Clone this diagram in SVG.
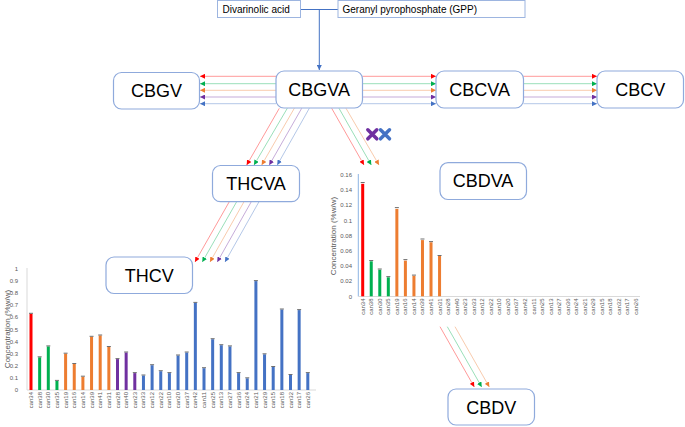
<svg xmlns="http://www.w3.org/2000/svg" width="685" height="427" viewBox="0 0 685 427">
<style>
.bg{fill:#ffffff}
.node rect.box{fill:#ffffff;stroke:#8faadc;stroke-width:1.2}
.node rect.sq{fill:#ffffff;stroke:#9db5e0;stroke-width:1}
.lbl{font-family:"Liberation Sans",Arial,sans-serif;font-size:18px;fill:#000000;text-anchor:middle}
.small{font-family:"Liberation Sans",Arial,sans-serif;font-size:10px;fill:#000000}
.tick{font-family:"Liberation Sans",Arial,sans-serif;font-size:6px;fill:#595959;text-anchor:end}
.xl{font-family:"Liberation Sans",Arial,sans-serif;font-size:6px;fill:#595959;text-anchor:end}
.ylab{font-family:"Liberation Sans",Arial,sans-serif;font-size:8px;fill:#595959;text-anchor:middle}
.lr{stroke:#ff0000;stroke-opacity:0.4;stroke-width:1;fill:none;marker-end:url(#mr)}
.lg{stroke:#00b050;stroke-opacity:0.4;stroke-width:1;fill:none;marker-end:url(#mg)}
.lo{stroke:#ed7d31;stroke-opacity:0.4;stroke-width:1;fill:none;marker-end:url(#mo)}
.lp{stroke:#7030a0;stroke-opacity:0.4;stroke-width:1;fill:none;marker-end:url(#mp)}
.lb{stroke:#4472c4;stroke-opacity:0.4;stroke-width:1;fill:none;marker-end:url(#mb)}
.main{stroke:#4472c4;stroke-width:1;fill:none}
.red{fill:#ff0000}.grn{fill:#00b050}.org{fill:#ed7d31}.pur{fill:#7030a0}.blu{fill:#4472c4}
.err{stroke:#6f6f6f;stroke-width:1;fill:none}
.axis{stroke:#d9d9d9;stroke-width:1;fill:none}
.axisb{stroke:#8eb4e3;stroke-width:1;fill:none}
.xm{stroke-width:3.5;stroke-linecap:round;fill:none}
</style>
<defs>
<marker id="mr" viewBox="0 0 6 6" refX="6" refY="3" markerWidth="5" markerHeight="5" orient="auto" markerUnits="userSpaceOnUse"><path d="M0,0 L6,3 L0,6 z" fill="#ff0000"/></marker>
<marker id="mg" viewBox="0 0 6 6" refX="6" refY="3" markerWidth="5" markerHeight="5" orient="auto" markerUnits="userSpaceOnUse"><path d="M0,0 L6,3 L0,6 z" fill="#00b050"/></marker>
<marker id="mo" viewBox="0 0 6 6" refX="6" refY="3" markerWidth="5" markerHeight="5" orient="auto" markerUnits="userSpaceOnUse"><path d="M0,0 L6,3 L0,6 z" fill="#ed7d31"/></marker>
<marker id="mp" viewBox="0 0 6 6" refX="6" refY="3" markerWidth="5" markerHeight="5" orient="auto" markerUnits="userSpaceOnUse"><path d="M0,0 L6,3 L0,6 z" fill="#7030a0"/></marker>
<marker id="mb" viewBox="0 0 6 6" refX="6" refY="3" markerWidth="5" markerHeight="5" orient="auto" markerUnits="userSpaceOnUse"><path d="M0,0 L6,3 L0,6 z" fill="#4472c4"/></marker>
</defs>
<rect class="bg" x="0" y="0" width="685" height="427"/>

<g id="connectors">
<path class="main" d="M300,9.5 H338 M319.3,9.5 V70" marker-end="url(#mb)"/>
<!-- CBGVA -> CBGV -->
<line class="lr" x1="276" y1="76.3" x2="200" y2="76.3"/>
<line class="lg" x1="276" y1="83.7" x2="200" y2="83.7"/>
<line class="lo" x1="276" y1="90.3" x2="200" y2="90.3"/>
<line class="lp" x1="276" y1="97" x2="200" y2="97"/>
<line class="lb" x1="276" y1="103.7" x2="200" y2="103.7"/>
<!-- CBGVA -> CBCVA -->
<line class="lr" x1="362.5" y1="76.3" x2="436" y2="76.3"/>
<line class="lg" x1="362.5" y1="83.7" x2="436" y2="83.7"/>
<line class="lo" x1="362.5" y1="90.3" x2="436" y2="90.3"/>
<line class="lp" x1="362.5" y1="97" x2="436" y2="97"/>
<line class="lb" x1="362.5" y1="103.7" x2="436" y2="103.7"/>
<!-- CBCVA -> CBCV -->
<line class="lr" x1="523.5" y1="76.3" x2="597" y2="76.3"/>
<line class="lg" x1="523.5" y1="83.7" x2="597" y2="83.7"/>
<line class="lo" x1="523.5" y1="90.3" x2="597" y2="90.3"/>
<line class="lp" x1="523.5" y1="97" x2="597" y2="97"/>
<line class="lb" x1="523.5" y1="103.7" x2="597" y2="103.7"/>
<!-- CBGVA -> THCVA -->
<line class="lr" x1="279.3" y1="108.3" x2="246.7" y2="165"/>
<line class="lg" x1="287.3" y1="108.3" x2="254" y2="165"/>
<line class="lo" x1="294.3" y1="108.3" x2="261.7" y2="165"/>
<line class="lp" x1="301.7" y1="108.3" x2="269.3" y2="165"/>
<line class="lb" x1="309.3" y1="108.3" x2="277.3" y2="165"/>
<!-- THCVA -> THCV -->
<line class="lr" x1="229.3" y1="201.7" x2="195" y2="262"/>
<line class="lg" x1="236.7" y1="201.7" x2="202.3" y2="262"/>
<line class="lo" x1="244" y1="201.7" x2="210" y2="262"/>
<line class="lp" x1="251.3" y1="201.7" x2="217.3" y2="262"/>
<line class="lb" x1="259" y1="201.7" x2="225" y2="262"/>
<!-- CBGVA -> CBDVA -->
<line class="lr" x1="331.7" y1="108.3" x2="364" y2="165"/>
<line class="lg" x1="339" y1="108.3" x2="371.3" y2="165"/>
<line class="lo" x1="346" y1="108.3" x2="379" y2="165"/>
<!-- CBDVA chart -> CBDV -->
<line class="lr" x1="440" y1="326.7" x2="474.3" y2="387"/>
<line class="lg" x1="447.3" y1="326.7" x2="481.7" y2="387"/>
<line class="lo" x1="455" y1="326.7" x2="489.3" y2="387"/>
<!-- blocked marks -->
<path class="xm" stroke="#7030a0" d="M367.8,129.8 L376.8,138.8 M376.8,129.8 L367.8,138.8"/>
<path class="xm" stroke="#4472c4" d="M380.5,129.8 L389.5,138.8 M389.5,129.8 L380.5,138.8"/>
</g>

<g id="divarinolic" class="node"><rect class="sq" x="217.5" y="0.5" width="83" height="17"/><text class="small" x="222.5" y="13">Divarinolic acid</text></g>
<g id="gpp" class="node"><rect class="sq" x="338" y="0.5" width="187" height="17"/><text class="small" x="342.5" y="13">Geranyl pyrophosphate (GPP)</text></g>
<g id="cbgv" class="node"><rect class="box" x="113.5" y="72.5" width="86" height="36.5" rx="8"/><text class="lbl" x="156.5" y="97">CBGV</text></g>
<g id="cbgva" class="node"><rect class="box" x="276" y="71" width="86.5" height="37" rx="8"/><text class="lbl" x="319.2" y="95.8">CBGVA</text></g>
<g id="cbcva" class="node"><rect class="box" x="436" y="71" width="87.5" height="37" rx="8"/><text class="lbl" x="479.7" y="95.8">CBCVA</text></g>
<g id="cbcv" class="node"><rect class="box" x="597" y="71" width="86.5" height="37" rx="8"/><text class="lbl" x="640.2" y="96">CBCV</text></g>
<g id="thcva" class="node"><rect class="box" x="212.5" y="165.5" width="87" height="36.2" rx="8"/><text class="lbl" x="256" y="190">THCVA</text></g>
<g id="thcv" class="node"><rect class="box" x="106" y="257" width="86.5" height="36.5" rx="8"/><text class="lbl" x="149.2" y="281.5">THCV</text></g>
<g id="cbdva" class="node"><rect class="box" x="440" y="162.7" width="86.5" height="36.8" rx="8"/><text class="lbl" x="483" y="187.3">CBDVA</text></g>
<g id="cbdv" class="node"><rect class="box" x="448" y="389" width="86.5" height="36" rx="8"/><text class="lbl" x="491.2" y="413.5">CBDV</text></g>

<g id="chart-thcv">
<line class="axis" x1="27" y1="268" x2="27" y2="390"/>
<line class="axis" x1="27" y1="390" x2="316" y2="390"/>
<text class="ylab" transform="translate(9.5,329) rotate(-90)">Concentration (%w/w)</text>
<g>
<text class="tick" x="18" y="392">0</text>
<text class="tick" x="18" y="379.9">0.1</text>
<text class="tick" x="18" y="367.8">0.2</text>
<text class="tick" x="18" y="355.7">0.3</text>
<text class="tick" x="18" y="343.6">0.4</text>
<text class="tick" x="18" y="331.5">0.5</text>
<text class="tick" x="18" y="319.4">0.6</text>
<text class="tick" x="18" y="307.3">0.7</text>
<text class="tick" x="18" y="295.2">0.8</text>
<text class="tick" x="18" y="283.1">0.9</text>
<text class="tick" x="18" y="271">1</text>
</g>
<g>
<rect class="red" x="29.5" y="313.8" width="3" height="76.2"/>
<rect class="grn" x="38.15" y="357.3" width="3" height="32.7"/>
<rect class="grn" x="46.8" y="346.4" width="3" height="43.6"/>
<rect class="grn" x="55.45" y="380.9" width="3" height="9.1"/>
<rect class="org" x="64.1" y="353.7" width="3" height="36.3"/>
<rect class="org" x="72.75" y="364" width="3" height="26"/>
<rect class="org" x="81.4" y="376.7" width="3" height="13.3"/>
<rect class="org" x="90.05" y="336.8" width="3" height="53.2"/>
<rect class="org" x="98.7" y="335.5" width="3" height="54.5"/>
<rect class="org" x="107.35" y="347" width="3" height="43"/>
<rect class="pur" x="116" y="359.1" width="3" height="30.9"/>
<rect class="pur" x="124.65" y="352.5" width="3" height="37.5"/>
<rect class="pur" x="133.3" y="373.1" width="3" height="16.9"/>
<rect class="blu" x="141.95" y="375.5" width="3" height="14.5"/>
<rect class="blu" x="150.6" y="365.2" width="3" height="24.8"/>
<rect class="blu" x="159.25" y="371.2" width="3" height="18.8"/>
<rect class="blu" x="167.9" y="373.1" width="3" height="16.9"/>
<rect class="blu" x="176.55" y="355.5" width="3" height="34.5"/>
<rect class="blu" x="185.2" y="352.5" width="3" height="37.5"/>
<rect class="blu" x="193.85" y="302.9" width="3" height="87.1"/>
<rect class="blu" x="202.5" y="368.2" width="3" height="21.8"/>
<rect class="blu" x="211.15" y="339.2" width="3" height="50.8"/>
<rect class="blu" x="219.8" y="345.2" width="3" height="44.8"/>
<rect class="blu" x="228.45" y="346.4" width="3" height="43.6"/>
<rect class="blu" x="237.1" y="373.1" width="3" height="16.9"/>
<rect class="blu" x="245.75" y="378.3" width="3" height="11.7"/>
<rect class="blu" x="254.4" y="281.1" width="3" height="108.9"/>
<rect class="blu" x="263.05" y="354.3" width="3" height="35.7"/>
<rect class="blu" x="271.7" y="367" width="3" height="23"/>
<rect class="blu" x="280.35" y="309.5" width="3" height="80.5"/>
<rect class="blu" x="289" y="375" width="3" height="15"/>
<rect class="blu" x="297.65" y="310.1" width="3" height="79.9"/>
<rect class="blu" x="306.3" y="373.1" width="3" height="16.9"/>
</g>
<path class="err" d="M29,313.3h4 M37.65,356.8h4 M46.3,345.9h4 M54.95,380.4h4 M63.6,353.2h4 M72.25,363.5h4 M80.9,376.2h4 M89.55,336.3h4 M98.2,335h4 M106.85,346.5h4 M115.5,358.6h4 M124.15,352h4 M132.8,372.6h4 M141.45,375h4 M150.1,364.7h4 M158.75,370.7h4 M167.4,372.6h4 M176.05,355h4 M184.7,352h4 M193.35,302.4h4 M202,367.7h4 M210.65,338.7h4 M219.3,344.7h4 M227.95,345.9h4 M236.6,372.6h4 M245.25,377.8h4 M253.9,280.6h4 M262.55,353.8h4 M271.2,366.5h4 M279.85,309h4 M288.5,374.5h4 M297.15,309.6h4 M305.8,372.6h4"/>
<g>
<text class="xl" transform="translate(33,392) rotate(-90)">can34</text>
<text class="xl" transform="translate(41.65,392) rotate(-90)">can38</text>
<text class="xl" transform="translate(50.3,392) rotate(-90)">can30</text>
<text class="xl" transform="translate(58.95,392) rotate(-90)">can35</text>
<text class="xl" transform="translate(67.6,392) rotate(-90)">can19</text>
<text class="xl" transform="translate(76.25,392) rotate(-90)">can16</text>
<text class="xl" transform="translate(84.9,392) rotate(-90)">can14</text>
<text class="xl" transform="translate(93.55,392) rotate(-90)">can39</text>
<text class="xl" transform="translate(102.2,392) rotate(-90)">can41</text>
<text class="xl" transform="translate(110.85,392) rotate(-90)">can31</text>
<text class="xl" transform="translate(119.5,392) rotate(-90)">can28</text>
<text class="xl" transform="translate(128.15,392) rotate(-90)">can40</text>
<text class="xl" transform="translate(136.8,392) rotate(-90)">can23</text>
<text class="xl" transform="translate(145.45,392) rotate(-90)">can33</text>
<text class="xl" transform="translate(154.1,392) rotate(-90)">can12</text>
<text class="xl" transform="translate(162.75,392) rotate(-90)">can22</text>
<text class="xl" transform="translate(171.4,392) rotate(-90)">can10</text>
<text class="xl" transform="translate(180.05,392) rotate(-90)">can20</text>
<text class="xl" transform="translate(188.7,392) rotate(-90)">can37</text>
<text class="xl" transform="translate(197.35,392) rotate(-90)">can42</text>
<text class="xl" transform="translate(206,392) rotate(-90)">can11</text>
<text class="xl" transform="translate(214.65,392) rotate(-90)">can25</text>
<text class="xl" transform="translate(223.3,392) rotate(-90)">can13</text>
<text class="xl" transform="translate(231.95,392) rotate(-90)">can27</text>
<text class="xl" transform="translate(240.6,392) rotate(-90)">can36</text>
<text class="xl" transform="translate(249.25,392) rotate(-90)">can24</text>
<text class="xl" transform="translate(257.9,392) rotate(-90)">can21</text>
<text class="xl" transform="translate(266.55,392) rotate(-90)">can29</text>
<text class="xl" transform="translate(275.2,392) rotate(-90)">can15</text>
<text class="xl" transform="translate(283.85,392) rotate(-90)">can18</text>
<text class="xl" transform="translate(292.5,392) rotate(-90)">can32</text>
<text class="xl" transform="translate(301.15,392) rotate(-90)">can17</text>
<text class="xl" transform="translate(309.8,392) rotate(-90)">can26</text>
</g>
</g>

<g id="chart-cbdva">
<line class="axisb" x1="358.3" y1="174" x2="358.3" y2="296.5"/>
<line class="axis" x1="358.3" y1="296.5" x2="640" y2="296.5"/>
<text class="ylab" transform="translate(336,236) rotate(-90)">Concentration (%w/w)</text>
<g>
<text class="tick" x="352" y="298.6">0</text>
<text class="tick" x="352" y="283.4">0.02</text>
<text class="tick" x="352" y="268.2">0.04</text>
<text class="tick" x="352" y="253">0.06</text>
<text class="tick" x="352" y="237.8">0.08</text>
<text class="tick" x="352" y="222.6">0.1</text>
<text class="tick" x="352" y="207.4">0.12</text>
<text class="tick" x="352" y="192.2">0.14</text>
<text class="tick" x="352" y="177">0.16</text>
</g>
<g>
<rect class="red" x="361.2" y="183.8" width="3" height="112.5"/>
<rect class="grn" x="369.74" y="261.3" width="3" height="35"/>
<rect class="grn" x="378.28" y="269.7" width="3" height="26.6"/>
<rect class="grn" x="386.82" y="277.3" width="3" height="19"/>
<rect class="org" x="395.36" y="208.9" width="3" height="87.4"/>
<rect class="org" x="403.9" y="260.6" width="3" height="35.7"/>
<rect class="org" x="412.44" y="275.8" width="3" height="20.5"/>
<rect class="org" x="420.98" y="240.1" width="3" height="56.2"/>
<rect class="org" x="429.52" y="242.3" width="3" height="54"/>
<rect class="org" x="438.06" y="256" width="3" height="40.3"/>
</g>
<path class="err" d="M360.7,182.5h4 M369.24,260.5h4 M377.78,269h4 M386.32,276.6h4 M394.86,207.6h4 M403.4,259.6h4 M411.94,275.1h4 M420.48,239h4 M429.02,241.6h4 M437.56,255.5h4"/>
<g>
<text class="xl" transform="translate(364.7,298.5) rotate(-90)">can34</text>
<text class="xl" transform="translate(373.24,298.5) rotate(-90)">can38</text>
<text class="xl" transform="translate(381.78,298.5) rotate(-90)">can30</text>
<text class="xl" transform="translate(390.32,298.5) rotate(-90)">can35</text>
<text class="xl" transform="translate(398.86,298.5) rotate(-90)">can19</text>
<text class="xl" transform="translate(407.4,298.5) rotate(-90)">can16</text>
<text class="xl" transform="translate(415.94,298.5) rotate(-90)">can14</text>
<text class="xl" transform="translate(424.48,298.5) rotate(-90)">can39</text>
<text class="xl" transform="translate(433.02,298.5) rotate(-90)">can41</text>
<text class="xl" transform="translate(441.56,298.5) rotate(-90)">can31</text>
<text class="xl" transform="translate(450.1,298.5) rotate(-90)">can28</text>
<text class="xl" transform="translate(458.64,298.5) rotate(-90)">can40</text>
<text class="xl" transform="translate(467.18,298.5) rotate(-90)">can23</text>
<text class="xl" transform="translate(475.72,298.5) rotate(-90)">can33</text>
<text class="xl" transform="translate(484.26,298.5) rotate(-90)">can12</text>
<text class="xl" transform="translate(492.8,298.5) rotate(-90)">can22</text>
<text class="xl" transform="translate(501.34,298.5) rotate(-90)">can10</text>
<text class="xl" transform="translate(509.88,298.5) rotate(-90)">can20</text>
<text class="xl" transform="translate(518.42,298.5) rotate(-90)">can37</text>
<text class="xl" transform="translate(526.96,298.5) rotate(-90)">can42</text>
<text class="xl" transform="translate(535.5,298.5) rotate(-90)">can11</text>
<text class="xl" transform="translate(544.04,298.5) rotate(-90)">can25</text>
<text class="xl" transform="translate(552.58,298.5) rotate(-90)">can13</text>
<text class="xl" transform="translate(561.12,298.5) rotate(-90)">can27</text>
<text class="xl" transform="translate(569.66,298.5) rotate(-90)">can36</text>
<text class="xl" transform="translate(578.2,298.5) rotate(-90)">can24</text>
<text class="xl" transform="translate(586.74,298.5) rotate(-90)">can21</text>
<text class="xl" transform="translate(595.28,298.5) rotate(-90)">can29</text>
<text class="xl" transform="translate(603.82,298.5) rotate(-90)">can15</text>
<text class="xl" transform="translate(612.36,298.5) rotate(-90)">can18</text>
<text class="xl" transform="translate(620.9,298.5) rotate(-90)">can32</text>
<text class="xl" transform="translate(629.44,298.5) rotate(-90)">can17</text>
<text class="xl" transform="translate(637.98,298.5) rotate(-90)">can26</text>
</g>
</g>
</svg>
